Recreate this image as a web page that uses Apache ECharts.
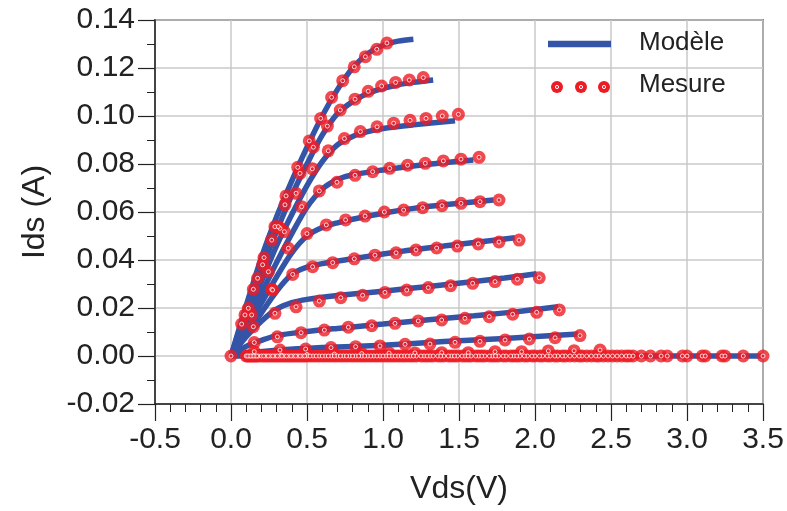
<!DOCTYPE html>
<html>
<head>
<meta charset="utf-8">
<script src="https://cdn.jsdelivr.net/npm/echarts@6/dist/echarts.min.js"></script>
<style>html,body{margin:0;padding:0;background:#fff}#c{width:787px;height:511px}</style>
</head>
<body>
<div id="c"></div>
<script>
// ---- Data (Vds [V], Ids [A]) ----
var xTicks = [-0.5, 0.0, 0.5, 1.0, 1.5, 2.0, 2.5, 3.0, 3.5];
var yTicks = [-0.02, 0.00, 0.02, 0.04, 0.06, 0.08, 0.10, 0.12, 0.14];

// Modèle curves
var model1 = [[0,0],[0.1,0.021],[0.2,0.041],[0.3,0.058],[0.4,0.073],[0.5,0.087],[0.6,0.1],[0.7,0.111],[0.8,0.12],[0.9,0.126],[1.0,0.1295],[1.1,0.1312],[1.2,0.132]];
var model2 = [[0,0],[0.1,0.019],[0.2,0.036],[0.3,0.052],[0.4,0.067],[0.5,0.08],[0.6,0.092],[0.7,0.101],[0.8,0.106],[0.9,0.1095],[1.0,0.1115],[1.1,0.113],[1.2,0.114],[1.33,0.115]];
var model3 = [[0,0],[0.1,0.016],[0.2,0.031],[0.3,0.046],[0.4,0.059],[0.5,0.071],[0.6,0.081],[0.7,0.088],[0.8,0.0915],[0.9,0.0935],[1.0,0.0948],[1.2,0.0963],[1.474,0.098]];
var model4 = [[0,0],[0.1,0.013],[0.2,0.026],[0.3,0.039],[0.4,0.051],[0.5,0.062],[0.6,0.0695],[0.7,0.0735],[0.8,0.0755],[1.0,0.0775],[1.2,0.0792],[1.4,0.0805],[1.594,0.0817]];
var model5 = [[0,0],[0.1,0.011],[0.2,0.022],[0.3,0.033],[0.4,0.043],[0.5,0.05],[0.6,0.0535],[0.7,0.0555],[0.8,0.057],[1.0,0.0595],[1.2,0.0615],[1.4,0.063],[1.726,0.065]];
var model6 = [[0,0],[0.1,0.009],[0.2,0.018],[0.3,0.027],[0.4,0.034],[0.5,0.037],[0.6,0.0385],[0.8,0.0405],[1.0,0.0425],[1.2,0.0443],[1.4,0.0458],[1.6,0.0473],[1.868,0.0493]];
var model7 = [[0,0],[0.1,0.008],[0.2,0.0145],[0.3,0.0195],[0.4,0.0222],[0.5,0.0236],[0.7,0.0252],[1.0,0.027],[1.3,0.029],[1.6,0.031],[1.8,0.0325],[2.011,0.0343]];
var model8 = [[0,0],[0.1,0.004],[0.2,0.0065],[0.3,0.0085],[0.5,0.0102],[0.7,0.0115],[1.0,0.0133],[1.3,0.0151],[1.6,0.0168],[1.9,0.0186],[2.153,0.0205]];
var model9 = [[0,0],[0.1,0.0012],[0.3,0.0024],[0.6,0.0035],[1.0,0.0045],[1.4,0.006],[1.8,0.0073],[2.285,0.0092]];
var model0 = [[0,0],[3.5,0]];

// Mesure points
var meas1 = [[0,0],[0.07,0.0133],[0.114,0.0199],[0.147,0.0278],[0.175,0.0324],[0.217,0.041],[0.268,0.0483],[0.289,0.0539],[0.322,0.0532],[0.362,0.0667],[0.439,0.0786],[0.515,0.0896],[0.59,0.099],[0.662,0.1078],[0.735,0.1147],[0.811,0.1205],[0.884,0.1247],[0.959,0.1278],[1.026,0.1304]];
var meas2 = [[0.092,0.0171],[0.208,0.038],[0.311,0.0539],[0.355,0.063],[0.454,0.0761],[0.542,0.087],[0.634,0.0958],[0.719,0.1025],[0.816,0.107],[0.903,0.1103],[0.991,0.1125],[1.083,0.114],[1.173,0.115],[1.265,0.116]];
var meas3 = [[0.136,0.0171],[0.351,0.0518],[0.428,0.0678],[0.535,0.078],[0.64,0.0855],[0.746,0.0906],[0.851,0.0935],[0.961,0.0955],[1.07,0.097],[1.178,0.0982],[1.283,0.099],[1.39,0.1],[1.496,0.1007]];
var meas4 = [[0.246,0.0351],[0.465,0.0622],[0.581,0.0688],[0.697,0.0724],[0.816,0.0753],[0.932,0.0768],[1.044,0.0782],[1.162,0.0795],[1.278,0.0803],[1.397,0.0813],[1.513,0.082],[1.632,0.0828]];
var meas5 = [[0.268,0.0278],[0.377,0.0449],[0.5,0.051],[0.627,0.0546],[0.754,0.0567],[0.882,0.0583],[1.009,0.06],[1.136,0.0608],[1.261,0.0618],[1.388,0.0626],[1.513,0.0636],[1.638,0.0643],[1.763,0.065]];
var meas6 = [[0.147,0.0122],[0.274,0.0275],[0.406,0.034],[0.537,0.0372],[0.669,0.0389],[0.811,0.0405],[0.947,0.042],[1.086,0.043],[1.217,0.0442],[1.353,0.045],[1.489,0.0458],[1.627,0.0467],[1.763,0.0475],[1.895,0.0483]];
var meas7 = [[0.289,0.0178],[0.428,0.0205],[0.581,0.0229],[0.722,0.0243],[0.866,0.0253],[1.013,0.0265],[1.156,0.0275],[1.298,0.0285],[1.445,0.0293],[1.59,0.0303],[1.737,0.031],[1.884,0.032],[2.028,0.0326]];
var meas8 = [[0.153,0.0056],[0.305,0.008],[0.461,0.0097],[0.614,0.0108],[0.772,0.012],[0.926,0.0126],[1.079,0.0136],[1.232,0.0146],[1.386,0.015],[1.539,0.0157],[1.699,0.0164],[1.853,0.0174],[2.011,0.0182],[2.16,0.0192]];
var meas9 = [[0.153,0.0018],[0.322,0.0025],[0.491,0.0029],[0.658,0.0035],[0.82,0.0039],[0.98,0.0042],[1.145,0.0049],[1.309,0.005],[1.474,0.0057],[1.638,0.0061],[1.803,0.0067],[1.963,0.0071],[2.132,0.0076],[2.296,0.0085]];
var meas10 = [[0.33,0.0004],[0.5,0.0006],[0.68,0.0008],[0.86,0.001],[1.04,0.0012],[1.21,0.0013],[1.386,0.0014],[1.561,0.0014],[1.737,0.0018],[1.912,0.0018],[2.088,0.0021],[2.257,0.0022],[2.428,0.0025]];
var measZeroV = [0.1,0.12,0.14,0.16,0.18,0.2,0.23,0.26,0.29,0.32,0.35,0.38,0.41,0.44,0.47,0.5,0.54,0.58,0.62,0.66,0.7,0.74,0.78,0.82,0.86,0.9,0.94,0.98,1.02,1.06,1.1,1.14,1.18,1.22,1.27,1.31,1.36,1.4,1.45,1.49,1.54,1.58,1.63,1.67,1.72,1.76,1.81,1.86,1.9,1.95,2.0,2.05,2.1,2.15,2.2,2.26,2.31,2.37,2.42,2.48,2.54,2.6,2.645,2.7,2.76,2.83,2.87,2.97,3.0,3.1,3.12,3.23,3.25,3.37,3.5];
var measZeroV2 = [0.11,0.13,0.15,0.17,0.215,0.245,0.275,0.305,0.335,0.365,0.395,0.425,0.455,0.485,0.52,0.56,0.6,0.64,0.68,0.72,0.76,0.8,0.84,0.88,0.92,0.96,1.0,1.04,1.08,1.12,1.16,1.2,1.25,1.29,1.33,1.38,1.43,1.47,1.52,1.56,1.61,1.65,1.7,1.74,1.79,1.84,1.88,1.93,1.98,2.03,2.08,2.13,2.18,2.23,2.29,2.34,2.4,2.45,2.51,2.57,2.62];

// ---- Chart ----
var BLUE = '#3354a7', RED = '#ed1c24';
var FONT = '"Liberation Sans", Arial, sans-serif';
var models = [model1, model2, model3, model4, model5, model6, model7, model8, model9, model0];
var measures = [meas1, meas2, meas3, meas4, meas5, meas6, meas7, meas8, meas9, meas10,
  measZeroV.map(function (v) { return [v, 0]; }),
  measZeroV2.map(function (v) { return [v, 0]; })];

var series = [];
models.forEach(function (m) {
  series.push({type: 'line', data: m, showSymbol: false, symbol: 'none', smooth: 0.3,
    lineStyle: {color: BLUE, width: 5.5}, z: 2, silent: true, animation: false});
});
measures.forEach(function (m) {
  // red disk
  series.push({type: 'scatter', data: m, symbol: 'circle', symbolSize: 13,
    itemStyle: {color: RED}, z: 3, silent: true, animation: false});
  // small white ring inside the disk
  series.push({type: 'scatter', data: m, symbol: 'circle', symbolSize: 4,
    itemStyle: {color: RED, borderColor: '#fff', borderWidth: 1}, z: 4, silent: true, animation: false});
});

var chart = echarts.init(document.getElementById('c'), null, {renderer: 'canvas'});
chart.setOption({
  animation: false,
  backgroundColor: '#fff',
  grid: {left: 155, right: 24, top: 20, bottom: 107, show: true, borderColor: '#222', borderWidth: 1.5, backgroundColor: 'transparent'},
  xAxis: {
    type: 'value', min: xTicks[0], max: xTicks[xTicks.length - 1], interval: 0.5,
    name: 'Vds(V)', nameLocation: 'middle', nameGap: 69,
    nameTextStyle: {fontFamily: FONT, fontSize: 32, color: '#222'},
    axisLine: {show: true, onZero: false, lineStyle: {color: '#222', width: 1.5}},
    axisTick: {show: true, length: 17, lineStyle: {color: '#222', width: 1.2}},
    minorTick: {show: true, splitNumber: 5, length: 8, lineStyle: {color: '#222', width: 1}},
    axisLabel: {fontFamily: FONT, fontSize: 30, color: '#222', margin: 21,
      formatter: function (v) { return v.toFixed(1); }},
    splitLine: {show: true, lineStyle: {color: '#c8c8c8', width: 1.5}}
  },
  yAxis: {
    type: 'value', min: yTicks[0], max: yTicks[yTicks.length - 1], interval: 0.02,
    name: 'Ids (A)', nameLocation: 'middle', nameGap: 104, nameRotate: 90,
    nameTextStyle: {fontFamily: FONT, fontSize: 32, color: '#222'},
    axisLine: {show: true, onZero: false, lineStyle: {color: '#222', width: 1.5}},
    axisTick: {show: true, length: 17, lineStyle: {color: '#222', width: 1.2}},
    minorTick: {show: true, splitNumber: 2, length: 8, lineStyle: {color: '#222', width: 1}},
    axisLabel: {fontFamily: FONT, fontSize: 30, color: '#222', margin: 20,
      formatter: function (v) { return v.toFixed(2); }},
    splitLine: {show: true, lineStyle: {color: '#c8c8c8', width: 1.5}}
  },
  graphic: [
    {type: 'line', shape: {x1: 548, y1: 44, x2: 611, y2: 44}, style: {stroke: BLUE, lineWidth: 6.5}, z: 10},
    {type: 'text', left: 639, top: 30, style: {text: 'Modèle', font: '26px ' + FONT, fill: '#222'}, z: 10},
    {type: 'circle', shape: {cx: 557, cy: 87, r: 6}, style: {fill: RED}, z: 10},
    {type: 'circle', shape: {cx: 581, cy: 87, r: 6}, style: {fill: RED}, z: 10},
    {type: 'circle', shape: {cx: 604, cy: 87, r: 6}, style: {fill: RED}, z: 10},
    {type: 'circle', shape: {cx: 557, cy: 87, r: 1.6}, style: {fill: RED, stroke: '#fff', lineWidth: 1}, z: 11},
    {type: 'circle', shape: {cx: 581, cy: 87, r: 1.6}, style: {fill: RED, stroke: '#fff', lineWidth: 1}, z: 11},
    {type: 'circle', shape: {cx: 604, cy: 87, r: 1.6}, style: {fill: RED, stroke: '#fff', lineWidth: 1}, z: 11},
    {type: 'text', left: 639, top: 72, style: {text: 'Mesure', font: '26px ' + FONT, fill: '#222'}, z: 10}
  ],
  series: series
});
</script>
</body>
</html>
